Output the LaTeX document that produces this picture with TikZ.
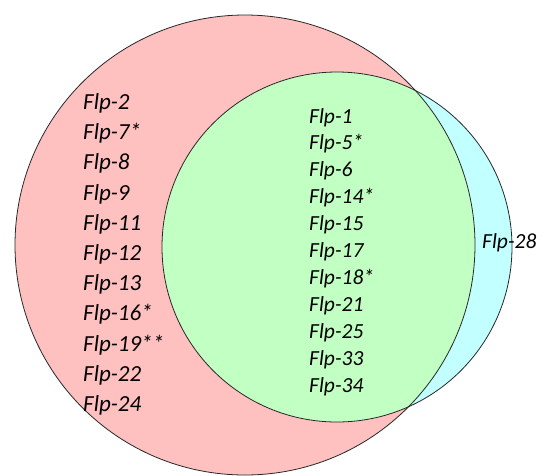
\documentclass[tikz,border=0pt]{standalone}
\usepackage{fontspec}
\setmainfont{Carlito}
\definecolor{pinkfill}{RGB}{255,192,192}
\definecolor{greenfill}{RGB}{194,255,194}
\definecolor{bluefill}{RGB}{194,255,255}
\definecolor{edge}{RGB}{40,40,40}
\begin{document}
\begin{tikzpicture}[x=1pt,y=-1pt,
  setline/.style={draw=edge, line width=0.8pt},
  leftlbl/.style={anchor=base west, inner sep=0pt, font=\itshape\fontsize{23}{27}\selectfont},
  midlbl/.style={anchor=base west, inner sep=0pt, font=\itshape\fontsize{21.5}{25}\selectfont}]
\useasboundingbox (0,0) rectangle (547,475);
\fill[white] (0,0) rectangle (547,475);
% the two sets
\coordinate (A) at (245,245);
\coordinate (B) at (337,247);
\fill[pinkfill] (A) circle (230pt);
\fill[bluefill] (B) circle (175pt);
% shared part
\begin{scope}
  \clip (A) circle (230pt);
  \fill[greenfill] (B) circle (175pt);
\end{scope}
\draw[setline] (A) circle (230pt);
\draw[setline] (B) circle (175pt);
% members of the first set only
\foreach \t [count=\i] in {Flp-2,Flp-7*,Flp-8,Flp-9,Flp-11,Flp-12,Flp-13,Flp-16*,Flp-19**,Flp-22,Flp-24}
  \node[leftlbl] (L\i) at (83,{109.5+30.2*(\i-1)}) {\t};
% members of both sets
\foreach \t [count=\i] in {Flp-1,Flp-5*,Flp-6,Flp-14*,Flp-15,Flp-17,Flp-18*,Flp-21,Flp-25,Flp-33,Flp-34}
  \node[midlbl] (M\i) at (309,{123+26.9*(\i-1)}) {\t};
% member of the second set only
\node[midlbl] (R1) at (482,248) {Flp-28};
\end{tikzpicture}
\end{document}
